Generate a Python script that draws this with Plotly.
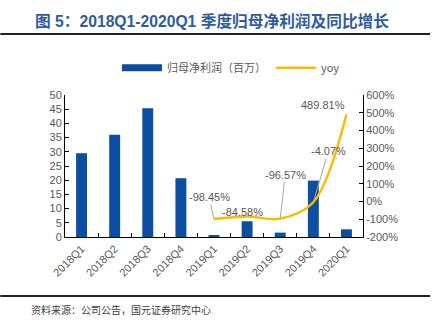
import plotly.graph_objects as go

categories = ["2018Q1", "2018Q2", "2018Q3", "2018Q4", "2019Q1", "2019Q2", "2019Q3", "2019Q4", "2020Q1"]
profit = [29.5, 36.0, 45.3, 20.7, 0.46, 5.55, 1.55, 19.86, 2.7]
yoy_cats = ["2019Q1", "2019Q2", "2019Q3", "2019Q4", "2020Q1"]
yoy = [-98.45, -84.58, -96.57, -4.07, 489.81]
yoy_labels = ["-98.45%", "-84.58%", "-96.57%", "-4.07%", "489.81%"]
left_ticks = list(range(0, 51, 5))
right_ticks = list(range(-200, 601, 100))

BLUE = "#0B4EA2"
GOLD = "#FFB900"
GRAY = "#595959"
FONT = "Liberation Sans, Noto Sans CJK SC, sans-serif"

fig = go.Figure()
fig.add_trace(go.Bar(x=categories, y=profit, name="归母净利润（百万）",
                     marker=dict(color=BLUE, line=dict(width=0)), yaxis="y", showlegend=False))
# legend-only entry to get the wide rectangle symbol of the original
fig.add_trace(go.Scatter(x=[None], y=[None], name="归母净利润（百万）", mode="lines",
                         line=dict(color=BLUE, width=7), yaxis="y"))
fig.add_trace(go.Scatter(x=yoy_cats, y=yoy, name="yoy", mode="lines",
                         line=dict(color=GOLD, width=2.5, shape="spline", smoothing=1.0),
                         yaxis="y2"))

# annotation offsets (pixels) for the yoy labels
offsets = [(-5, -22, True), (-5, -5, False), (5, -44, True), (15, -51, True), (-23, -10, False)]
for c, v, t, (dx, dy, arrow) in zip(yoy_cats, yoy, yoy_labels, offsets):
    if arrow:
        fig.add_annotation(x=c, y=v, xref="x", yref="y2", text=t, showarrow=True,
                           arrowhead=0, arrowwidth=1, arrowcolor="#A6A6A6",
                           ax=dx, ay=dy, standoff=0,
                           font=dict(size=11, color=GRAY, family=FONT), bgcolor="rgba(0,0,0,0)")
    else:
        fig.add_annotation(x=c, y=v, xref="x", yref="y2", text=t, showarrow=False,
                           xshift=dx, yshift=-dy,
                           font=dict(size=11, color=GRAY, family=FONT))

# title, rules, source
fig.add_annotation(xref="paper", yref="paper", x=-0.12, y=1.0, yanchor="bottom", xanchor="left",
                   yshift=63, xshift=4,
                   text="<b>图 5：2018Q1-2020Q1 季度归母净利润及同比增长</b>", showarrow=False,
                   font=dict(size=15.7, color="#2E5C9E", family=FONT))
fig.add_annotation(xref="paper", yref="paper", x=-0.12, y=0, yanchor="top", xanchor="left",
                   yshift=-63,
                   text="资料来源：公司公告，国元证券研究中心", showarrow=False,
                   font=dict(size=10, color="#404040", family="Noto Sans CJK SC"))
fig.add_shape(type="line", xref="paper", yref="paper", x0=-0.217, x1=1.225, y0=1.43, y1=1.43,
              line=dict(color="#222222", width=2))
fig.add_shape(type="line", xref="paper", yref="paper", x0=-0.217, x1=1.225, y0=-0.415, y1=-0.415,
              line=dict(color="#222222", width=2))

fig.update_layout(
    width=440, height=325,
    margin=dict(l=65, r=77, t=95, b=88),
    paper_bgcolor="white", plot_bgcolor="white",
    font=dict(family=FONT, color=GRAY, size=11),
    bargap=0.67,
    showlegend=True,
    legend=dict(orientation="h", x=0.557, xanchor="center", y=1.09, yanchor="bottom",
                font=dict(size=11, color=GRAY, family="Noto Sans CJK SC"), itemwidth=40,
                bgcolor="rgba(0,0,0,0)"),
    xaxis=dict(type="category", categoryorder="array", categoryarray=categories,
               showline=True, linecolor="black", linewidth=1, ticks="inside", ticklen=4,
               tickcolor="black", tickson="boundaries", tickangle=-45,
               tickfont=dict(size=11, color=GRAY), showgrid=False, zeroline=False),
    yaxis=dict(range=[0, 50], tickvals=left_ticks, showline=True, linecolor="black", linewidth=1,
               ticks="inside", ticklen=4, tickcolor="black", showgrid=False, zeroline=False,
               tickfont=dict(size=11, color=GRAY)),
    yaxis2=dict(range=[-200, 600], tickvals=right_ticks, ticktext=[f"{v}%" for v in right_ticks],
                overlaying="y", side="right", showline=True, linecolor="black", linewidth=1,
                ticks="inside", ticklen=4, tickcolor="black", showgrid=False, zeroline=False,
                tickfont=dict(size=11, color=GRAY)),
)

fig.write_html("out.html")
